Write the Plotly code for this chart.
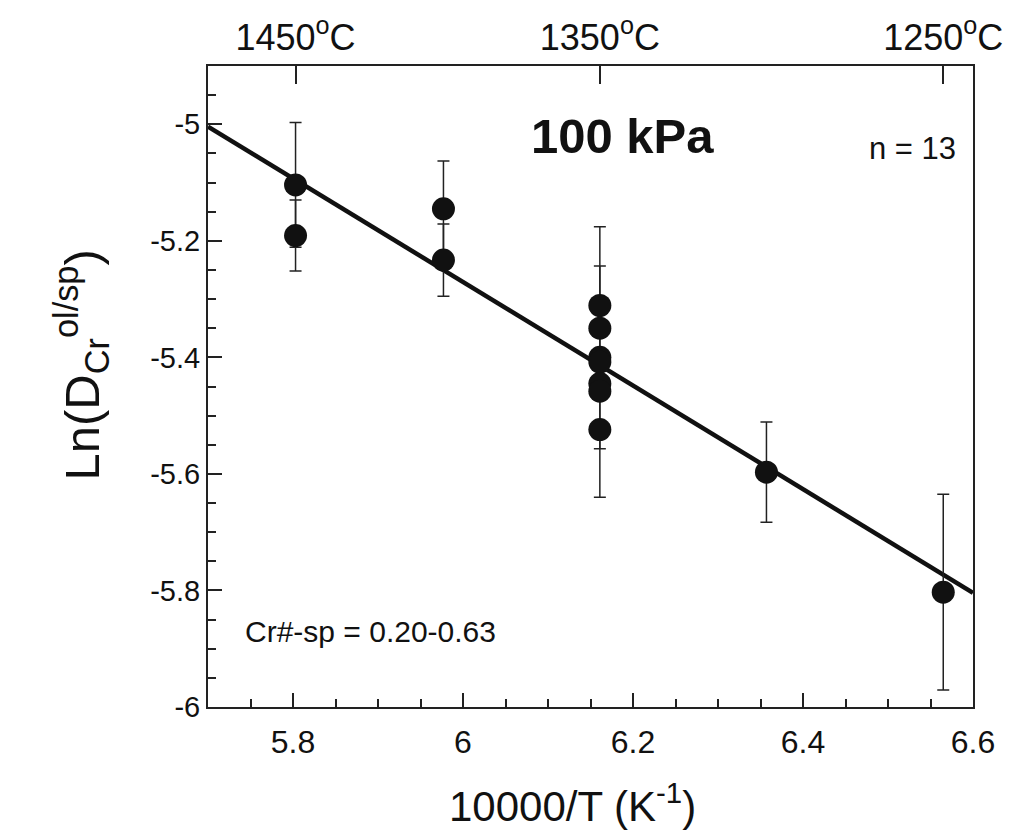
import plotly.graph_objects as go

# ---- data ----
inv_T = [5.803, 5.803, 5.977, 5.977,
         6.161, 6.161, 6.161, 6.161, 6.161, 6.161, 6.161,
         6.357, 6.565]
ln_D = [-5.104, -5.191, -5.145, -5.233,
        -5.311, -5.350, -5.400, -5.408, -5.445, -5.458, -5.524,
        -5.597, -5.803]
err = [0.107, 0.061, 0.082, 0.062,
       0.0, 0.0, 0.157, 0.232, 0.0, 0.0, 0.0,
       0.086, 0.168]

fit_x = [5.7, 6.6]
fit_y = [-5.004, -5.804]

x_ticks = [5.8, 6.0, 6.2, 6.4, 6.6]
x_ticktext = ["5.8", "6", "6.2", "6.4", "6.6"]
y_ticks = [-6.0, -5.8, -5.6, -5.4, -5.2, -5.0]
y_ticktext = ["-6", "-5.8", "-5.6", "-5.4", "-5.2", "-5"]
temp_labels_C = [1450, 1350, 1250]
temp_ticks = [5.803, 6.161, 6.565]

SANS = "Liberation Sans, Arial, Helvetica, sans-serif"

fig = go.Figure()

fig.add_trace(go.Scatter(
    x=fit_x, y=fit_y, mode="lines",
    line=dict(color="#111111", width=4.5),
    showlegend=False, hoverinfo="skip"))

fig.add_trace(go.Scatter(
    x=inv_T, y=ln_D, mode="markers",
    marker=dict(size=23, color="#111111"),
    error_y=dict(type="data", array=err, visible=True,
                 color="#222222", thickness=1.5, width=6),
    showlegend=False))

# invisible trace to activate the top axis
fig.add_trace(go.Scatter(x=fit_x, y=fit_y, xaxis="x2", mode="lines",
                         line=dict(width=0), showlegend=False, hoverinfo="skip"))

fig.update_layout(
    width=1019, height=835,
    margin=dict(l=208, r=46, t=66, b=128),
    paper_bgcolor="white", plot_bgcolor="white",
    xaxis=dict(
        range=[5.7, 6.6], tickvals=x_ticks, ticktext=x_ticktext,
        ticks="inside", ticklen=14, tickwidth=1.5, tickcolor="#222",
        minor=dict(dtick=0.05, ticks="inside", ticklen=8, tickwidth=1.5, tickcolor="#222"),
        showline=True, linecolor="#222", linewidth=2, showgrid=False, zeroline=False,
        tickfont=dict(family=SANS, size=32, color="#111"),
        ticklabelstandoff=6,
    ),
    xaxis2=dict(
        overlaying="x", side="top", range=[5.7, 6.6],
        tickvals=temp_ticks,
        ticktext=[f"{t}<sup>o</sup>C" for t in temp_labels_C],
        ticks="inside", ticklen=18, tickwidth=2, tickcolor="#222",
        showline=True, linecolor="#222", linewidth=2, showgrid=False, zeroline=False,
        tickfont=dict(family=SANS, size=36, color="#111"),
    ),
    yaxis=dict(
        range=[-6.0, -4.9], tickvals=y_ticks, ticktext=y_ticktext,
        ticks="inside", ticklen=14, tickwidth=1.5, tickcolor="#222",
        minor=dict(dtick=0.05, ticks="inside", ticklen=8, tickwidth=1.5, tickcolor="#222"),
        showline=True, mirror=True, linecolor="#222", linewidth=2,
        showgrid=False, zeroline=False,
        tickfont=dict(family=SANS, size=29, color="#111"),
    ),
    annotations=[
        dict(x=0.476, y=-0.15, xref="paper", yref="paper",
             text="10000/T (K<sup>-1</sup>)", showarrow=False,
             xanchor="center", yanchor="middle",
             font=dict(family=SANS, size=42, color="#111")),
        dict(x=-0.165, y=0.534, xref="paper", yref="paper",
             text="Ln(D<sub>Cr</sub><sup>ol/sp</sup>)", showarrow=False,
             textangle=-90, xanchor="center", yanchor="middle",
             font=dict(family=SANS, size=49, color="#111")),
        dict(x=6.188, y=-5.02, xref="x", yref="y", text="<b>100 kPa</b>",
             showarrow=False, font=dict(family=SANS, size=49, color="#111")),
        dict(x=6.582, y=-5.042, xref="x", yref="y", text="n = 13", xanchor="right",
             showarrow=False, font=dict(family=SANS, size=31, color="#111")),
        dict(x=5.741, y=-5.87, xref="x", yref="y", text="Cr#-sp = 0.20-0.63", xanchor="left",
             showarrow=False, font=dict(family=SANS, size=30, color="#111")),
    ],
)

fig.write_html("out.html")
